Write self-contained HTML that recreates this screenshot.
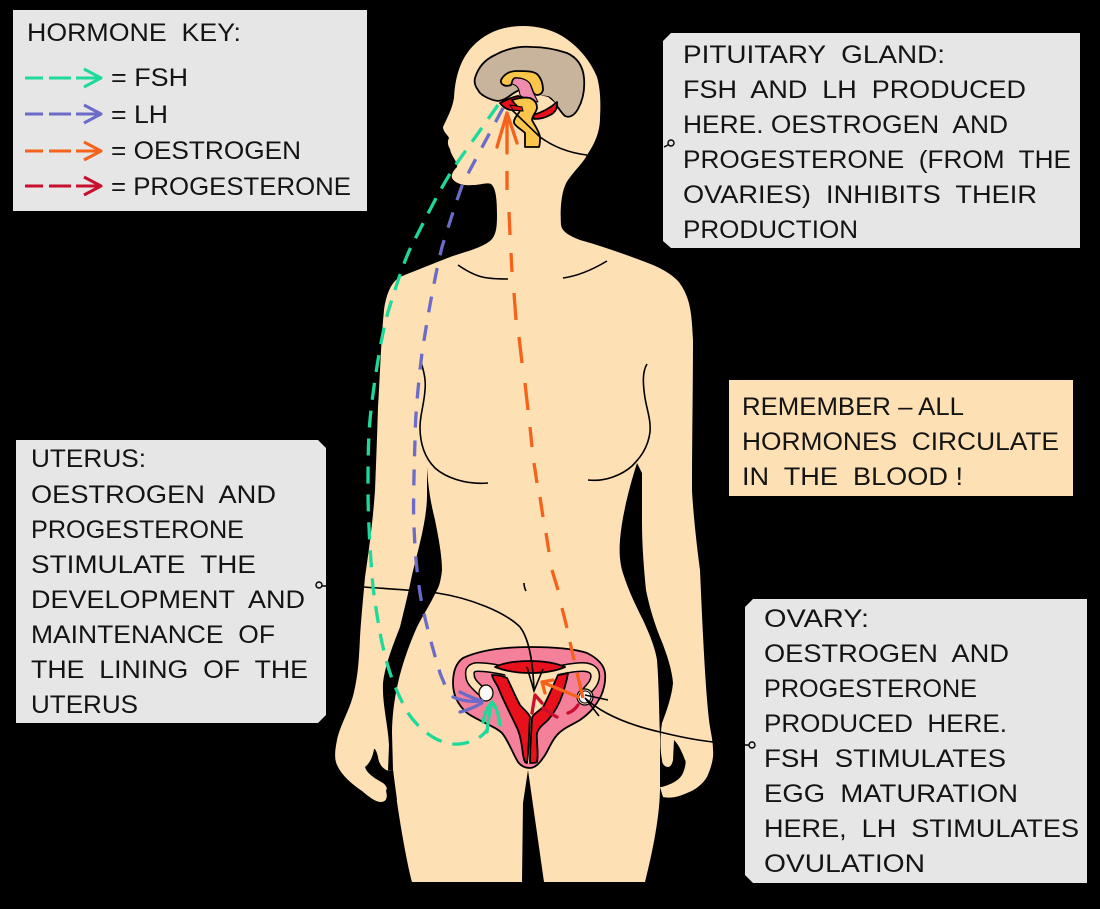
<!DOCTYPE html>
<html><head><meta charset="utf-8"><style>
html,body{margin:0;padding:0;background:#000}
svg{display:block}
text{font-family:"Liberation Sans",sans-serif;font-size:25px;fill:#141414;white-space:pre}
</style></head><body>
<svg width="1100" height="909" viewBox="0 0 1100 909" xmlns="http://www.w3.org/2000/svg">
<rect width="1100" height="909" fill="#000"/>

<!-- body silhouette -->
<path fill="#fde0b3" d="M523,26 C502,26 485,33 472,47 C460,60 455,78 454,98 C452,110 446,120 443,127 C443,132 448,135 449,138 C447,142 448,146 450,149 C451,156 458,162 457,167 C453,171 451,175 452,178 C455,184 465,186 473,185 C480,185 487,182 491,184 C496,188 497,200 497,215 C497,228 496,236 490,241 C478,250 462,252 445,259 C430,265 412,272 400,277 C391,282 386,295 384,310 C381,340 380,375 378,407 C377,440 376,465 375,490 C373,520 369,550 365,577 C363,600 361,620 360,637 C359,660 358,675 354,692 C350,710 340,725 337,740 C335,750 334,758 337,765 C342,776 352,784 362,791 C368,796 375,802 381,802 C386,802 388,798 386,791 L393,770 C396,800 405,855 412,882 L522,882 L523,803 L528,770 L544,882 L645,882 C653,850 660,815 660,787 L663,797 C672,799 680,796 687,793 C695,790 702,785 707,777 C711,768 714,758 713,750 C713,742 711,733 710,727 C706,700 703,640 700,570 C696,540 693,510 692,490 C692,440 693,385 693,340 C692,320 691,308 687,297 C684,289 680,283 677,280 C670,273 660,268 653,265 C630,256 605,247 580,240 C570,236 562,232 561,225 C560,210 561,190 568,180 C575,170 583,163 587,155 C596,142 600,130 600,118 C601,100 600,88 597,77 C590,60 578,46 562,36 C550,29 537,26 523,26 Z"/>

<!-- gaps between arms and torso -->
<path fill="#000" d="M427,467 C428,485 430,500 435,520 C438,535 442,555 442,570 C441,580 439,587 437,590 C430,605 423,615 417,627 C409,645 402,665 398,683 C394,700 392,718 392,733 L393,770 L388,771 L389,745 C388,725 382,703 383,683 C385,665 393,645 400,627 C404,610 408,595 412,575 C418,550 427,520 427,495 Z"/>
<path fill="#000" d="M389,771 C384,770 379,765 378,757 C377,752 375,748 374,749 C373,755 371,762 365,767 C367,774 376,779 383,783 C387,786 388,790 387,795 L397,800 L393,770 Z"/>
<path fill="#000" d="M637,463 C630,485 622,515 620,540 C619,552 620,562 622,570 C628,590 636,606 643,620 C650,635 655,648 657,660 C659,685 659,712 660,737 L660,787 L662,787 C672,784 680,780 683,773 C686,766 686,760 685,760 C682,752 679,745 674,740 L673,760 C672,765 670,767 668,767 C665,767 662,764 662,760 C660,750 660,735 662,723 C667,710 672,695 673,683 C672,670 667,655 662,642 C656,628 650,610 646,590 C644,570 642,545 642,523 C642,500 642,485 642,473 Z"/>

<!-- body lines -->
<g fill="none" stroke="#000" stroke-width="1.6">
<path d="M458,265 C468,272 478,277 488,278 C495,279 502,279 508,279"/>
<path d="M563,278 C578,276 592,270 607,261"/>
<path d="M421,362 C424,372 426,380 425,390 C424,405 420,415 420,427 C420,445 425,458 435,468 C445,477 465,485 488,483"/>
<path d="M647,364 C642,372 643,385 645,398 C647,410 651,420 650,432 C648,448 640,458 632,466 C622,475 605,482 588,480"/>
<path d="M524,583 C524,586 525,589 526,591"/>
</g>

<!-- brain -->
<g stroke="#000" stroke-width="1.8" stroke-linejoin="round">
<path fill="#c8b49c" d="M475,78 C478,68 484,60 495,55 C508,48 520,46 532,47 C545,47 558,50 567,53 C578,58 583,67 584,78 C585,90 583,100 578,109 C574,116 569,118 565,116 C559,111 555,100 548,97 C540,96 530,94 520,90 C512,92 508,100 498,101 C490,100 480,95 478,90 C475,86 474,82 475,78 Z"/>
<path fill="#fde0b3" d="M520,90 L548,97 C552,100 556,105 558,103 L553,113 L537,108 L530,98 Z" stroke="none"/>
<path fill="#fbc64a" d="M501,80 C504,74 510,71 517,71 C525,71 533,71 537,74 C541,78 543,84 543,90 C542,94 539,95 537,95 C533,95 532,88 530,84 C526,79 520,78 515,78 C512,79 512,83 511,85 C506,87 500,85 501,80 Z"/>
<path fill="#f08cb0" d="M515,78 C521,78 527,79 530,84 C532,89 533,93 535,96 L538,102 C532,100 522,98 520,95 C519,90 519,86 512,84 C512,82 513,79 515,78 Z" stroke-width="1"/>
<path fill="#e8101a" d="M557,102 C558,108 555,113 550,115 C545,118 540,119 534,119 L533,115 C540,113 548,110 557,102 Z"/>
<path fill="#e8101a" d="M500,103 C506,100 512,97 518,96 L524,98 L525,110 L512,110 C507,110 503,107 500,103 Z"/>
<path fill="#fbc64a" d="M512,100 C518,98 525,97 530,98 C535,100 537,104 537,108 C536,113 532,116 532,120 C535,126 539,131 540,137 C540,141 540,145 539,147 L525,147 L525,133 C521,129 516,127 514,123 C513,118 520,113 520,110 C518,106 514,104 512,100 Z"/>
</g>
<path fill="#e8101a" stroke="#000" stroke-width="1" d="M510,105 L522,107 L523,111 L513,110 Z"/>

<!-- uterus -->
<g stroke="#000" stroke-linejoin="round">
<path fill="#f5809a" stroke-width="1.8" d="M453,683 C453,672 456,663 463,658 C480,650 505,647 530,647 C550,647 572,648 587,653 C597,658 604,665 605,673 C606,682 604,689 601,696 C595,707 590,713 580,720 C572,725 563,728 557,735 C550,743 548,752 543,758 C539,764 535,768 530,768 C525,768 521,766 518,762 C513,754 508,740 502,733 C495,726 480,722 467,713 C458,705 453,695 453,683 Z"/>
<path fill="none" stroke="#000" stroke-width="10" d="M482,692 C476,686 470,682 470,675 C469,669 473,667 478,667 C497,667 512,674 530,674 C550,674 566,667 582,667 C593,667 596,672 595,678 C594,684 590,687 586,692"/>
<path fill="none" stroke="#fde0b3" stroke-width="7" d="M482,692 C476,686 470,682 470,675 C469,669 473,667 478,667 C497,667 512,674 530,674 C550,674 566,667 582,667 C593,667 596,672 595,678 C594,684 590,687 586,692"/>
<path fill="#fde0b3" stroke="none" d="M505,674 L530,672 L558,674 L543,707 L532,718 L531,763 L527,763 L528,717 L518,705 Z"/>
<path fill="#e8101a" stroke-width="1.8" d="M495,667 C505,662 518,661 530,661 C543,661 556,663 565,667 C556,671 543,673 530,673 C518,673 505,671 495,667 Z"/>
<path fill="#e8101a" stroke-width="1.8" d="M492,675 C497,675 503,676 507,678 C512,688 516,698 520,705 C524,710 529,713 530,717 C529,730 529,750 527,763 C524,763 524,758 523,755 C522,745 521,738 518,730 C512,717 503,700 498,687 C496,683 493,680 492,675 Z"/>
<path fill="#e8101a" stroke-width="1.8" d="M568,673 C564,674 560,675 558,675 C553,686 548,698 543,707 C538,712 533,714 532,718 C531,735 530,750 530,763 C533,763 536,763 537,762 C539,752 536,742 537,733 C539,727 544,724 548,720 C555,712 560,702 563,693 C565,686 567,680 568,673 Z"/>
<ellipse cx="486" cy="693" rx="7" ry="8" fill="#fde0b3" stroke-width="1.2"/>
<ellipse cx="486" cy="693" rx="5.5" ry="7" fill="#fafafa" stroke="none"/>
<circle cx="585" cy="697" r="8" fill="#fde0b3" stroke-width="1.2"/>
<circle cx="585" cy="697" r="6" fill="#fafafa" stroke-width="1"/>
</g>

<!-- leader lines -->
<g fill="none" stroke="#000" stroke-width="1.6">
<path d="M363,587 C390,589 415,590 437,593 C470,598 505,612 520,627 C530,640 533,665 534,690"/>
<path d="M527,667 L534,691 L543,669"/>
<path d="M512,110 L540,137 C555,148 570,153 587,155"/>
<path d="M585,698 C600,712 625,724 660,732 C680,737 695,740 713,742"/>
<path d="M585,695 L608,700 M585,698 L599,716"/>
</g>

<!-- hormone arrows -->
<g fill="none" stroke-linecap="butt">
<path stroke="#1dd99a" stroke-width="3.3" stroke-dasharray="17 11" d="M498,105 L457,163 C440,188 425,220 413,243 C405,258 397,283 388,312 C380,340 372,397 370,420 C368,440 368,470 368,487 C368,510 369,540 373,587 C376,610 380,635 383,647 C388,670 395,690 408,713 C418,728 435,742 452,744 C465,745 480,740 487,730"/>
<path stroke="#6b6bc8" stroke-width="3.3" stroke-dasharray="16 13" d="M503,108 L463,183 C455,205 448,228 442,247 C435,275 427,320 422,353 C418,385 415,420 415,440 C414,470 413,510 414,527 C415,550 416,565 420,593 C423,612 430,640 440,673 C444,683 446,688 449,692"/>
<path stroke="#f4621c" stroke-width="3.3" d="M583,698 L577,673 M574,660 L570,642 M567,628 L562,608 M558,590 L552,570 M549,552 L546,533 M543,517 L540,497 M537,483 L534,463 M532,447 L530,427 M528,410 L525,383 M522,363 L519,337 M516,320 L514,293 M512,272 L511,253 M510,235 L509,212 M507,190 L507,171"/>
<g stroke-width="3.3" stroke-linejoin="round" stroke-linecap="round">
<path stroke="#1dd99a" d="M483,722 C485,712 488,706 492,702 C497,708 499,716 500,725 M487,732 C488,720 490,710 492,702"/>
<path stroke="#6b6bc8" d="M460,692 C468,696 475,699 482,701 M453,697 C462,701 472,702 482,701 M460,712 C468,710 475,707 482,703"/>
<path stroke="#f4621c" d="M497,147 L507,113 L517,143 M507,113 L507,153"/>
<path stroke="#f4621c" d="M553,680 L542,682 L545,693 M542,682 L578,697"/>
<path stroke="#c8102e" d="M532,713 L535,695 L542,703"/>
<path stroke="#c8102e" d="M578,705 Q574,711 568,713 M557,717 Q549,713 543,708"/>
</g>
</g>

<!-- panels -->
<rect x="13" y="10" width="354" height="201" fill="#e6e6e6"/>
<path fill="#e6e6e6" d="M671,33 H1080 V248 H671 L663,241 V41 Z"/>
<path fill="#e6e6e6" d="M16,440 H318 L326,448 V715 L318,723 H16 Z"/>
<path fill="#e6e6e6" d="M753,599 H1087 V883 H753 L745,875 V607 Z"/>
<rect x="729" y="380" width="344" height="116" fill="#fde0b3"/>

<!-- key arrows -->
<g fill="none" stroke-width="3" stroke-linejoin="round">
<g stroke="#1dd99a"><path d="M25,78 H43 M49,78 H71 M76,78 H100"/><path d="M84,69 L101,78 L84,87"/></g>
<g stroke="#6b6bc8"><path d="M25,114 H43 M49,114 H71 M76,114 H100"/><path d="M84,105 L101,114 L84,123"/></g>
<g stroke="#f4621c"><path d="M25,151 H43 M49,151 H71 M76,151 H100"/><path d="M84,142 L101,151 L84,160"/></g>
<g stroke="#c8102e"><path d="M25,186 H43 M49,186 H71 M76,186 H100"/><path d="M84,177 L101,186 L84,195"/></g>
</g>

<!-- dots -->
<g fill="#e6e6e6" stroke="#000" stroke-width="1.4">
<circle cx="671" cy="143" r="3"/><circle cx="319" cy="585" r="3"/><circle cx="752" cy="745" r="3"/>
</g>
<path d="M664,147 L668,145 M322,586 H326 M745,745 H749" stroke="#000" stroke-width="1.4"/>

<!-- text -->
<g>
<text x="27" y="41" textLength="214" lengthAdjust="spacingAndGlyphs">HORMONE  KEY:</text>
<text x="111" y="86" textLength="77" lengthAdjust="spacingAndGlyphs">= FSH</text>
<text x="111" y="123" textLength="57" lengthAdjust="spacingAndGlyphs">= LH</text>
<text x="111" y="159" textLength="190" lengthAdjust="spacingAndGlyphs">= OESTROGEN</text>
<text x="111" y="195" textLength="240" lengthAdjust="spacingAndGlyphs">= PROGESTERONE</text>

<text x="683" y="63" textLength="262" lengthAdjust="spacingAndGlyphs">PITUITARY  GLAND:</text>
<text x="683" y="98" textLength="343" lengthAdjust="spacingAndGlyphs">FSH  AND  LH  PRODUCED</text>
<text x="683" y="133" textLength="325" lengthAdjust="spacingAndGlyphs">HERE. OESTROGEN  AND</text>
<text x="683" y="168" textLength="388" lengthAdjust="spacingAndGlyphs">PROGESTERONE  (FROM  THE</text>
<text x="683" y="203" textLength="354" lengthAdjust="spacingAndGlyphs">OVARIES)  INHIBITS  THEIR</text>
<text x="683" y="238" textLength="175" lengthAdjust="spacingAndGlyphs">PRODUCTION</text>

<text x="31" y="467" textLength="115" lengthAdjust="spacingAndGlyphs">UTERUS:</text>
<text x="31" y="503" textLength="245" lengthAdjust="spacingAndGlyphs">OESTROGEN  AND</text>
<text x="31" y="538" textLength="213" lengthAdjust="spacingAndGlyphs">PROGESTERONE</text>
<text x="31" y="573" textLength="225" lengthAdjust="spacingAndGlyphs">STIMULATE  THE</text>
<text x="31" y="608" textLength="274" lengthAdjust="spacingAndGlyphs">DEVELOPMENT  AND</text>
<text x="31" y="643" textLength="244" lengthAdjust="spacingAndGlyphs">MAINTENANCE  OF</text>
<text x="31" y="678" textLength="277" lengthAdjust="spacingAndGlyphs">THE  LINING  OF  THE</text>
<text x="31" y="713" textLength="107" lengthAdjust="spacingAndGlyphs">UTERUS</text>

<text x="742" y="415" textLength="222" lengthAdjust="spacingAndGlyphs">REMEMBER – ALL</text>
<text x="742" y="450" textLength="317" lengthAdjust="spacingAndGlyphs">HORMONES  CIRCULATE</text>
<text x="742" y="485" textLength="221" lengthAdjust="spacingAndGlyphs">IN  THE  BLOOD !</text>

<text x="764" y="627" textLength="105" lengthAdjust="spacingAndGlyphs">OVARY:</text>
<text x="764" y="662" textLength="245" lengthAdjust="spacingAndGlyphs">OESTROGEN  AND</text>
<text x="764" y="697" textLength="213" lengthAdjust="spacingAndGlyphs">PROGESTERONE</text>
<text x="764" y="732" textLength="243" lengthAdjust="spacingAndGlyphs">PRODUCED  HERE.</text>
<text x="764" y="767" textLength="242" lengthAdjust="spacingAndGlyphs">FSH  STIMULATES</text>
<text x="764" y="802" textLength="254" lengthAdjust="spacingAndGlyphs">EGG  MATURATION</text>
<text x="764" y="837" textLength="315" lengthAdjust="spacingAndGlyphs">HERE,  LH  STIMULATES</text>
<text x="764" y="872" textLength="161" lengthAdjust="spacingAndGlyphs">OVULATION</text>
</g>
</svg>
</body></html>
